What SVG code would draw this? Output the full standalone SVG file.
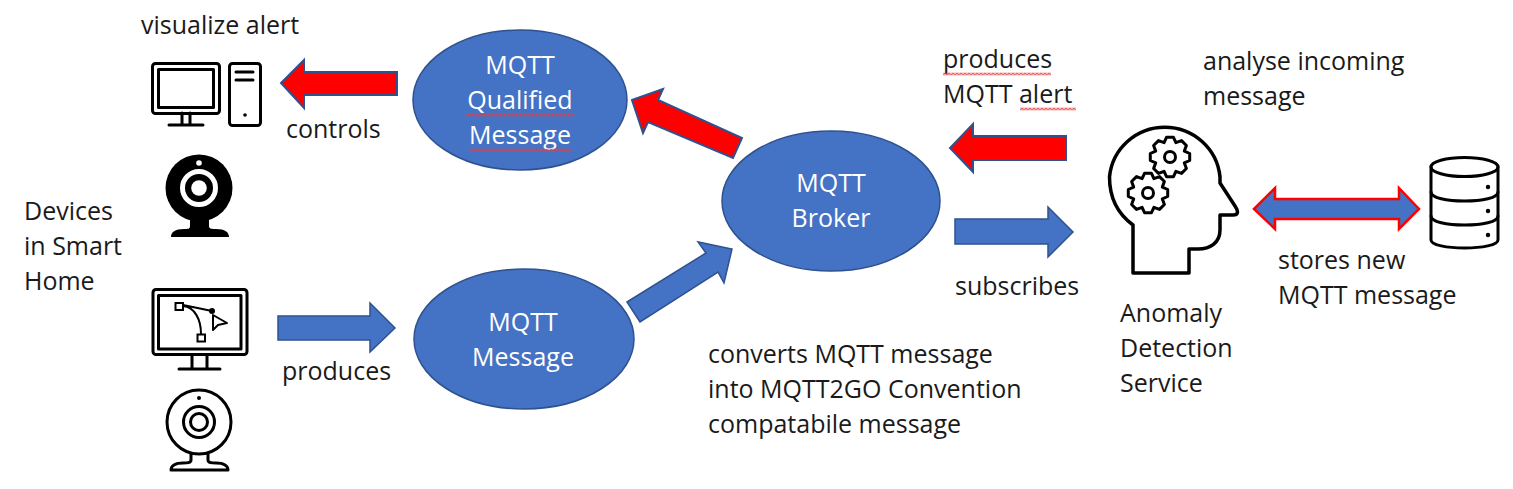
<svg xmlns="http://www.w3.org/2000/svg" width="1513" height="489" viewBox="0 0 1513 489">
<style>
text{font-family:"Open Sans","Noto Sans","Liberation Sans",sans-serif;font-size:25px;fill:#1a1a1a}
.w{fill:#fff;text-anchor:middle}
.e{fill:#4472c4;stroke:#2f528f;stroke-width:1.5}
.b{fill:#4472c4;stroke:#2f528f;stroke-width:1.5}
.r{fill:#f00;stroke:#2f528f;stroke-width:2}
.i{fill:none;stroke:#000;stroke-width:3;stroke-linejoin:round;stroke-linecap:round}
.k{fill:#000}
</style>
<defs>
<pattern id="sq" width="4" height="3" patternUnits="userSpaceOnUse"><path d="M0 2.500L2 .5L4 2.500" fill="none" stroke="#e83c3c" stroke-width="1.100"/></pattern>
<path id="gear" class="i" d="M19.700-3.500L19.700 3.500L14.300 5.900L16.400 11.500L11.500 16.400L5.900 14.300L3.500 19.700L-3.500 19.700L-5.900 14.300L-11.500 16.400L-16.400 11.500L-14.300 5.900L-19.700 3.500L-19.700-3.500L-14.300-5.900L-16.400-11.500L-11.500-16.400L-5.900-14.300L-3.500-19.700L3.500-19.700L5.900-14.300L11.500-16.400L16.400-11.500L14.300-5.900Z"/>
</defs>
<g id="connectors">
<path class="r" d="M397 72V95H304V108L281 83L304 60V72Z"/>
<path class="r" d="M632 100L663 89L658 100L742 138L733 158L648 122L643 133Z"/>
<path class="r" d="M1066 136V160H973V172L950 148L973 124V136Z"/>
<path class="b" d="M278 316H370V303L395 328L370 352V340H278Z"/>
<path class="b" d="M627 302L706 253L698 242L732 249L724 283L718 272L640 322Z"/>
<path class="b" d="M955 219H1048V207L1073 232L1048 257V244H955Z"/>
<path fill="#4472c4" stroke="#f00" stroke-width="2.500" d="M1254 209L1275 188V199H1399V188L1419 209L1399 229V219H1275V229Z"/>
</g>
<g id="node-qualified">
<ellipse class="e" cx="520" cy="100" rx="107" ry="70"/>
<text class="w" x="520" y="74">MQTT</text>
<text class="w" x="520" y="109">Qualified</text>
<text class="w" x="520" y="144">Message</text>
<rect transform="translate(466,113.500)" width="107" height="3" fill="url(#sq)"/>
<rect transform="translate(469,148.500)" width="103" height="3" fill="url(#sq)"/>
</g>
<g id="node-broker">
<ellipse class="e" cx="831" cy="201" rx="109" ry="70"/>
<text class="w" x="831" y="192">MQTT</text>
<text class="w" x="831" y="227">Broker</text>
</g>
<g id="node-message">
<ellipse class="e" cx="524" cy="339" rx="110" ry="70"/>
<text class="w" x="523" y="331">MQTT</text>
<text class="w" x="523" y="366">Message</text>
</g>
<g id="icon-computer">
<rect class="i" x="152.500" y="63.500" width="67" height="50" rx="3"/>
<rect class="i" x="158.500" y="69.500" width="55" height="38"/>
<path class="i" d="M182 113V125M190 113V125M169 125H203"/>
<rect class="i" x="229.500" y="63.500" width="31" height="62" rx="3"/>
<path class="i" d="M236 72H253M236 80H253"/>
<circle class="k" cx="245" cy="115" r="1.800"/>
</g>
<g id="icon-webcam-solid">
<circle class="k" cx="199" cy="188" r="33.500"/>
<path class="k" d="M190 218H209V226C209 229 212 229 216 229C225 229 229 232 229 237H171C171 232 175 229 184 229C188 229 190 229 190 226Z"/>
<circle cx="199" cy="188" r="16.500" fill="none" stroke="#fff" stroke-width="5"/>
<circle cx="199" cy="188" r="7.800" fill="#fff"/>
<circle cx="199" cy="163" r="2.800" fill="#fff"/>
</g>
<g id="icon-monitor-design">
<rect class="i" x="153" y="289.500" width="94" height="65" rx="3"/>
<rect class="i" x="158.500" y="295.500" width="82.500" height="53.500"/>
<path class="i" d="M192 355V369M207 355V369M179 369H220"/>
<path fill="none" stroke="#000" stroke-width="2" d="M183 306C195 307 201 320 201 334M183 305L212 311"/>
<rect x="175.500" y="303" width="7.500" height="7" fill="#fff" stroke="#000" stroke-width="2"/>
<rect x="197.500" y="334.500" width="7.500" height="7" fill="#fff" stroke="#000" stroke-width="2"/>
<circle class="k" cx="212" cy="311" r="3"/>
<path fill="#fff" stroke="#000" stroke-width="2" stroke-linejoin="round" d="M213 315L227 323L218 325L213 330Z"/>
</g>
<g id="icon-webcam-outline">
<circle class="i" cx="199" cy="422" r="32"/>
<circle class="i" cx="199" cy="422" r="15.500"/>
<circle class="i" cx="199" cy="422" r="8.500"/>
<circle class="k" cx="199" cy="398" r="2"/>
<path class="i" d="M191 454V460C191 463 187 463 183 463C175 463 171 466 171 470H228C228 466 224 463 216 463C212 463 208 463 208 460V454"/>
</g>
<g id="icon-head">
<path fill="none" stroke="#000" stroke-width="3.500" stroke-linejoin="round" d="M1133 225C1118 214 1109.500 197 1109.500 177A55.500 55 0 0 1 1220 177V183L1235 206C1239 212 1238 215 1233 215H1220V230C1220 243 1210 249 1198 249H1189V273H1133Z"/>
<use href="#gear" x="1170" y="157"/>
<circle class="i" cx="1170" cy="157" r="5.500"/>
<use href="#gear" x="1148" y="193"/>
<circle class="i" cx="1148" cy="193" r="5.500"/>
</g>
<g id="icon-database">
<path class="i" d="M1431 167V240C1431 245 1447 248 1464.500 248C1482 248 1498 245 1498 240V167"/>
<ellipse class="i" cx="1464.500" cy="167" rx="33.500" ry="9.500"/>
<path class="i" d="M1431 192C1431 198 1447 201 1464.500 201C1482 201 1498 198 1498 192M1431 216C1431 222 1447 225 1464.500 225C1482 225 1498 222 1498 216"/>
<circle class="k" cx="1488" cy="187" r="2.200"/>
<circle class="k" cx="1488" cy="211" r="2.200"/>
<circle class="k" cx="1488" cy="235" r="2.200"/>
</g>
<g id="labels">
<text x="141" y="34">visualize alert</text>
<text x="286" y="138">controls</text>
<text x="24" y="220">Devices</text>
<text x="24" y="255">in Smart</text>
<text x="24" y="290">Home</text>
<text x="282" y="380">produces</text>
<text x="708" y="363">converts MQTT message</text>
<text x="708" y="398">into MQTT2GO Convention</text>
<text x="708" y="433">compatabile message</text>
<text x="943" y="68">produces</text>
<text x="943" y="103">MQTT alert</text>
<rect transform="translate(943,72.500)" width="108" height="3" fill="url(#sq)"/>
<rect transform="translate(1020,107.500)" width="56" height="3" fill="url(#sq)"/>
<text x="1203" y="70">analyse incoming</text>
<text x="1203" y="105">message</text>
<text x="955" y="295">subscribes</text>
<text x="1120" y="322">Anomaly</text>
<text x="1120" y="357">Detection</text>
<text x="1120" y="392">Service</text>
<text x="1278" y="269">stores new</text>
<text x="1278" y="304">MQTT message</text>
</g>
</svg>
